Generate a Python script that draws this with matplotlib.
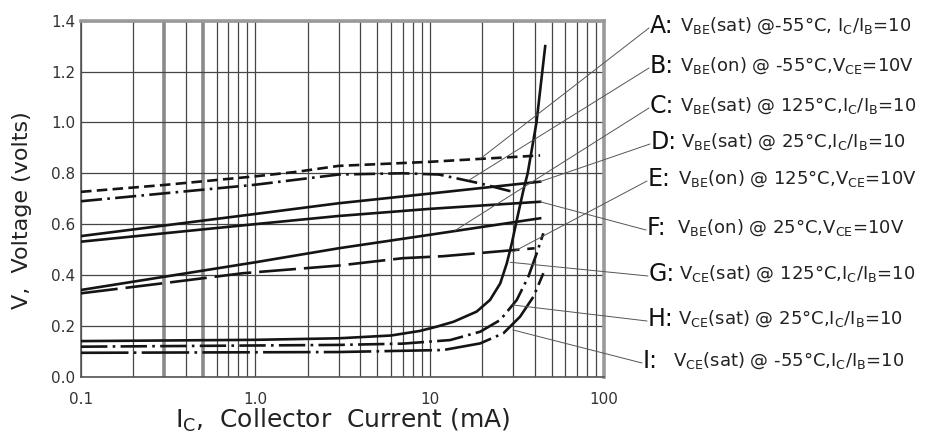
import matplotlib
matplotlib.use("Agg")
import matplotlib.pyplot as plt

plt.rcParams['font.family'] = ['DejaVu Sans']
plt.rcParams['mathtext.default'] = 'regular'

# ---- data (Ic in mA, voltage in V) ----
a_x = [0.1, 0.3, 1.0, 1.74, 3.0, 10, 20, 43]
a_y = [0.727, 0.754, 0.788, 0.806, 0.829, 0.845, 0.857, 0.870]

b_x = [0.1, 1.0, 3.0, 7.0, 11.3, 19.5, 30]
b_y = [0.690, 0.755, 0.795, 0.800, 0.795, 0.760, 0.727]

c_x = [0.1, 1.0, 3.0, 10, 43]
c_y = [0.553, 0.640, 0.682, 0.720, 0.767]

d_x = [0.1, 1.0, 3.0, 10, 43]
d_y = [0.531, 0.600, 0.632, 0.660, 0.688]

e_x = [0.1, 0.3, 1.0, 3.0, 10, 43]
e_y = [0.341, 0.393, 0.450, 0.505, 0.558, 0.623]

f_x = [0.1, 0.3, 0.85, 3.0, 7.0, 12, 40]
f_y = [0.328, 0.368, 0.407, 0.437, 0.466, 0.474, 0.505]

g_x = [0.1, 1.0, 3.0, 6.0, 8.8, 11, 13.7, 18.6, 22.2, 25.4, 27.7, 29.6, 31.6, 34.5, 36.5, 41, 46]
g_y = [0.140, 0.145, 0.151, 0.162, 0.180, 0.197, 0.216, 0.256, 0.302, 0.367, 0.446, 0.525, 0.616, 0.734, 0.800, 1.00, 1.30]

h_x = [0.1, 3.0, 7.0, 13.1, 19.5, 25.4, 31.6, 36.8, 41.1, 44.9]
h_y = [0.118, 0.125, 0.130, 0.144, 0.177, 0.223, 0.302, 0.393, 0.485, 0.564]

i_x = [0.1, 3.0, 12, 19.5, 26.5, 33, 39.4, 44.9]
i_y = [0.094, 0.097, 0.105, 0.131, 0.171, 0.236, 0.315, 0.407]

letters = ['A', 'B', 'C', 'D', 'E', 'F', 'G', 'H', 'I']
descriptions = [
    r'V$_{BE}$(sat) @-55°C, I$_C$/I$_B$=10',
    r'V$_{BE}$(on) @ -55°C,V$_{CE}$=10V',
    r'V$_{BE}$(sat) @ 125°C,I$_C$/I$_B$=10',
    r'V$_{BE}$(sat) @ 25°C,I$_C$/I$_B$=10',
    r'V$_{BE}$(on) @ 125°C,V$_{CE}$=10V',
    r'V$_{BE}$(on) @ 25°C,V$_{CE}$=10V',
    r'V$_{CE}$(sat) @ 125°C,I$_C$/I$_B$=10',
    r'V$_{CE}$(sat) @ 25°C,I$_C$/I$_B$=10',
    r'V$_{CE}$(sat) @ -55°C,I$_C$/I$_B$=10',
]
# leader-line anchor points on the curves (mA, V)
anchor_x = [19.5, 17, 14, 43, 30, 43, 29, 30, 30]
anchor_y = [0.857, 0.775, 0.575, 0.767, 0.49, 0.688, 0.45, 0.282, 0.184]

x_ticks = [0.1, 1.0, 10, 100]
x_tick_labels = ['0.1', '1.0', '10', '100']
y_ticks = [0.0, 0.2, 0.4, 0.6, 0.8, 1.0, 1.2, 1.4]
y_tick_labels = ['0.0', '0.2', '0.4', '0.6', '0.8', '1.0', '1.2', '1.4']

# ---- figure ----
W, H = 933, 436
fig = plt.figure(figsize=(W / 100, H / 100), dpi=100)
ax = fig.add_axes([81 / W, 1 - 376.7 / H, 523 / W, 356 / H])
ax.set_xscale('log')
ax.set_xlim(0.1, 100)
ax.set_ylim(0, 1.4)

# grid
grid_col = '#454545'
for dec in [0.1, 1, 10]:
    for m in range(1, 10):
        v = dec * m
        if abs(v - 0.3) < 1e-9 or abs(v - 0.5) < 1e-9:
            ax.axvline(v, color='#8a8a8a', lw=2.6, zorder=1)
        else:
            ax.axvline(v, color=grid_col, lw=0.9, zorder=1)
for yv in y_ticks:
    ax.axhline(yv, color=grid_col, lw=0.9, zorder=1)

curve_col = '#141414'
lw = 1.9
ax.plot(a_x, a_y, color=curve_col, lw=lw, dashes=(4, 2), zorder=3)
ax.plot(b_x, b_y, color=curve_col, lw=lw, dashes=(8, 2, 1, 2), zorder=3)
ax.plot(c_x, c_y, color=curve_col, lw=lw, zorder=3)
ax.plot(d_x, d_y, color=curve_col, lw=lw, zorder=3)
ax.plot(e_x, e_y, color=curve_col, lw=lw, zorder=3)
ax.plot(f_x, f_y, color=curve_col, lw=lw, dashes=(14, 3), zorder=3)
ax.plot(g_x, g_y, color=curve_col, lw=lw, zorder=3)
ax.plot(h_x, h_y, color=curve_col, lw=lw, dashes=(10, 2, 1, 2), zorder=3)
ax.plot(i_x, i_y, color=curve_col, lw=lw, dashes=(18, 2, 1, 2), zorder=3)

# spines / ticks
for s in ['left', 'bottom']:
    ax.spines[s].set_color('#555555')
    ax.spines[s].set_linewidth(1.2)
for s in ['top', 'right']:
    ax.spines[s].set_color('#9a9a9a')
    ax.spines[s].set_linewidth(2.6)

ax.set_xticks(x_ticks)
ax.set_xticklabels(x_tick_labels)
ax.xaxis.set_minor_locator(matplotlib.ticker.NullLocator())
ax.set_yticks(y_ticks)
ax.set_yticklabels(y_tick_labels)
ax.tick_params(axis='both', length=0, labelsize=11, colors='#333333')
ax.tick_params(axis='x', pad=11)
ax.tick_params(axis='y', pad=4)

ax.set_xlabel(r'I$_C$,  Collector  Current (mA)', fontsize=18, color='#222222')
ax.xaxis.label.set_va('center')
ax.xaxis.set_label_coords(0.5, -0.122)
ax.set_ylabel('V,  Voltage (volts)', fontsize=16, color='#222222')
ax.yaxis.label.set_va('center')
ax.yaxis.set_label_coords(-0.113, 0.468)

# right-hand labels with leader lines
letter_px_y = [26, 66, 106, 142, 179, 228, 274, 319, 361]
letter_px_x = [650, 650, 650, 651, 648, 647, 649, 648, 643]
for k in range(len(letters)):
    lx = letter_px_x[k]
    ly = H - letter_px_y[k]
    fig.text(lx / W, ly / H, letters[k] + ':', fontsize=17, ha='left', va='center', color='#111111')
    fig.text((lx + 30) / W, ly / H, descriptions[k], fontsize=13, ha='left', va='center', color='#222222')
    ax.annotate('', xy=(anchor_x[k], anchor_y[k]), xycoords='data',
                xytext=(lx - 1, ly - 2), textcoords='figure pixels',
                arrowprops=dict(arrowstyle='-', lw=0.7, color='#555555',
                                shrinkA=0, shrinkB=0),
                annotation_clip=False, zorder=4)

fig.savefig('out.png', dpi=100)
